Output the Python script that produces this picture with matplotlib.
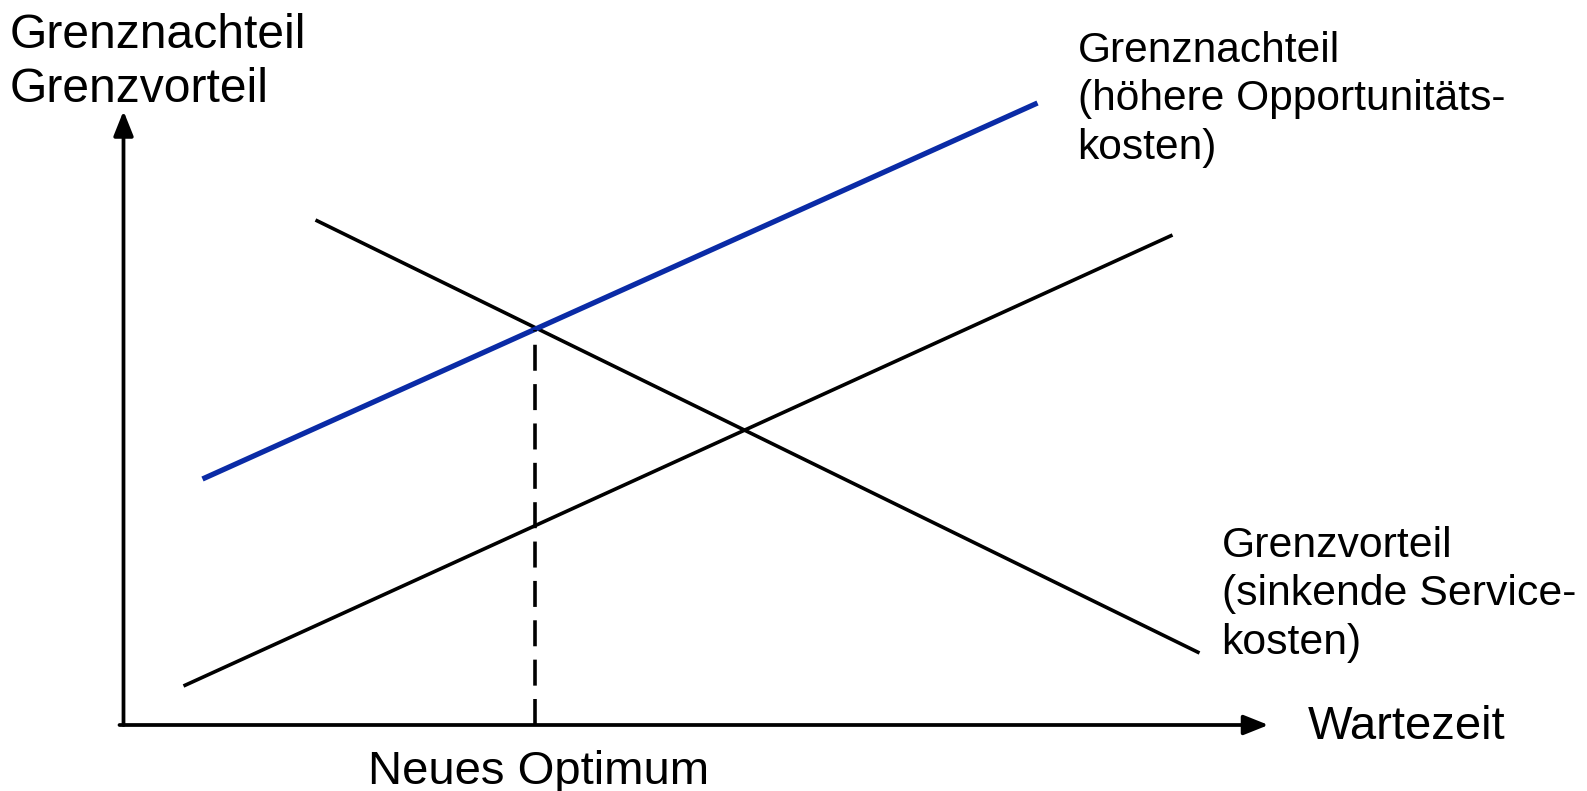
"""
Grenznachteil / Grenzvorteil diagram: new optimum with higher opportunity costs.
"""
import numpy as np
import matplotlib
matplotlib.use("Agg")
import matplotlib.pyplot as plt

BLUE = "#0A2BA6"
BLACK = "#000000"

plt.rcParams.update({
    "font.family": ["Liberation Sans", "DejaVu Sans"],
    "font.size": 34,
})

# Line endpoints (x = Wartezeit, y = cost), origin at the axes corner
nachteil_neu_x = [79, 914]
nachteil_neu_y = [246, 622]
vorteil_x = [192, 1076]
vorteil_y = [505, 72]
nachteil_alt_x = [60, 1049]
nachteil_alt_y = [39, 490]
optimum_x = 411

x_axis_len = 1145
y_axis_len = 614

fig = plt.figure(figsize=(15.87, 7.91), dpi=100)
ax = fig.add_axes([0, 0, 1, 1])
ax.set_xlim(-123.5, 1463.5)
ax.set_ylim(-66, 725)
ax.axis("off")

# Axes with arrow heads
arrow = dict(arrowstyle="-|>,head_length=0.75,head_width=0.3", color=BLACK,
             lw=2.7, shrinkA=0, shrinkB=0, mutation_scale=20)
ax.annotate("", xy=(0, y_axis_len), xytext=(0, 0), arrowprops=arrow)
ax.annotate("", xy=(x_axis_len, 0), xytext=(-4, 0), arrowprops=arrow)

# Curves
ax.plot(nachteil_alt_x, nachteil_alt_y, color=BLACK, lw=2.6, solid_capstyle="butt")
ax.plot(vorteil_x, vorteil_y, color=BLACK, lw=2.6, solid_capstyle="butt")
ax.plot(nachteil_neu_x, nachteil_neu_y, color=BLUE, lw=3.8, solid_capstyle="butt")

# New optimum: dashed drop line from the intersection
opt_y = np.interp(optimum_x, nachteil_neu_x, nachteil_neu_y)
ax.plot([optimum_x, optimum_x], [0, opt_y], color=BLACK, lw=2.6,
        dashes=(7.2, 3.7))

# Labels
ax.text(-113.5, 712, "Grenznachteil\nGrenzvorteil", ha="left", va="top",
        linespacing=1.27, fontsize=34.6)
ax.text(954, 694, "Grenznachteil\n(höhere Opportunitäts-\nkosten)", ha="left",
        va="top", linespacing=1.27, fontsize=30.6)
ax.text(1098, 199, "Grenzvorteil\n(sinkende Service-\nkosten)", ha="left",
        va="top", linespacing=1.27, fontsize=30.8)
ax.text(1184, -14, "Wartezeit", ha="left", va="baseline")
ax.text(optimum_x + 4, -59, "Neues Optimum", ha="center", va="baseline")

fig.savefig("out.png", dpi=100, facecolor="white")
plt.close(fig)
